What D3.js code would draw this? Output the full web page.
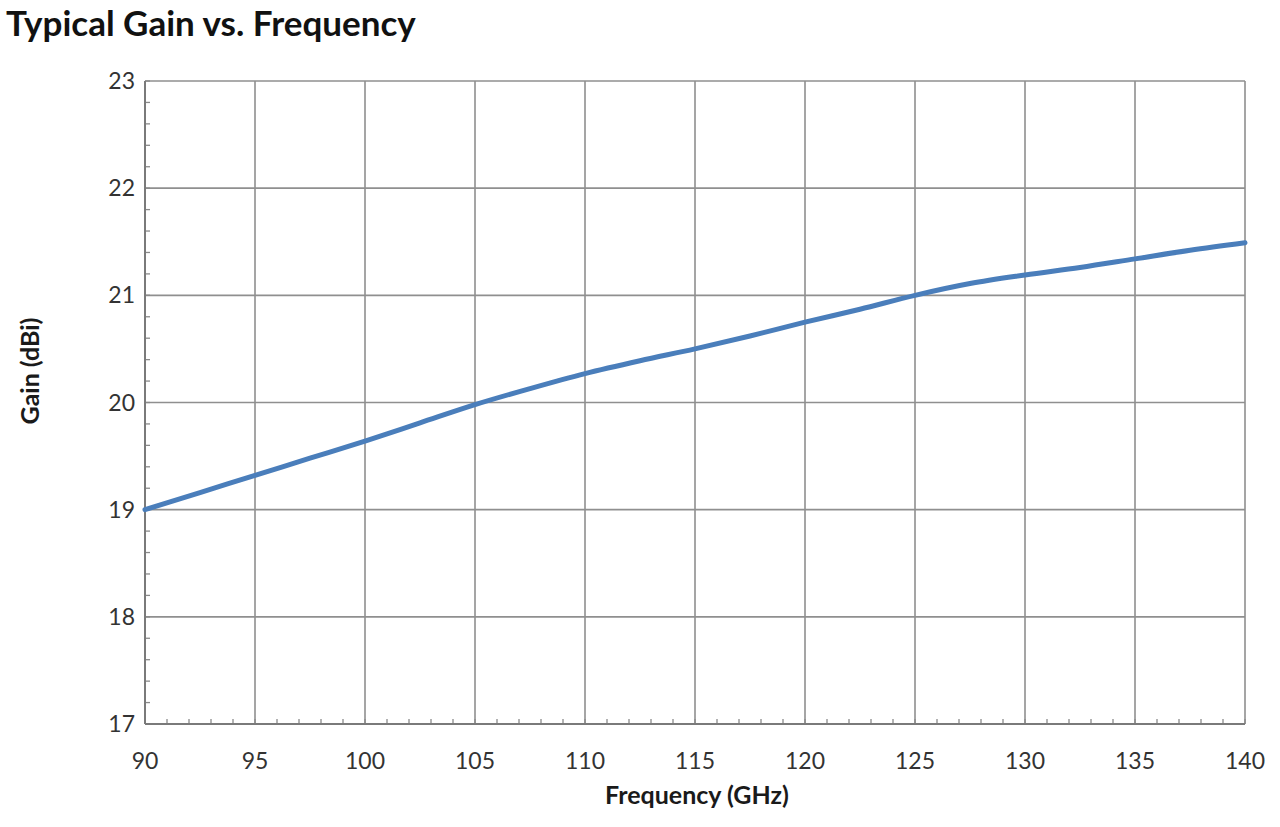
<!DOCTYPE html>
<html>
<head>
<meta charset="utf-8">
<script src="https://cdn.jsdelivr.net/npm/d3@7"></script>
<style>
body{margin:0;background:#fff}
svg{display:block}
</style>
</head>
<body>
<svg id="chart" width="1280" height="827"></svg>
<script>
// gain curve
let freq=[90,92.5,95,97.5,100,102.5,105,107.5,110,112.5,115,117.5,120,122.5,125,127.5,130,132.5,135,137.5,140]
let gain=[19.00,19.16,19.32,19.48,19.64,19.81,19.98,20.13,20.27,20.39,20.50,20.62,20.75,20.87,21.00,21.11,21.19,21.26,21.34,21.42,21.49]
let xTicks=[90,95,100,105,110,115,120,125,130,135,140]
let yTicks=[17,18,19,20,21,22,23]

let svg=d3.select("#chart")
let plotL=145,plotR=1245,plotT=81,plotB=724
let font="Lato, 'Open Sans', sans-serif"

let x=d3.scaleLinear().domain([90,140]).range([plotL,plotR])
let y=d3.scaleLinear().domain([17,23]).range([plotB,plotT])

svg.append("text")
.attr("x",6).attr("y",36)
.attr("font-family",font).attr("font-weight","bold")
.attr("font-size",35).attr("fill","#111")
.text("Typical Gain vs. Frequency")

// grid
let grid=svg.append("g").attr("stroke","#8f8f8f").attr("stroke-width",1.6)
xTicks.forEach(t=>{
grid.append("line").attr("x1",x(t)).attr("x2",x(t)).attr("y1",plotT).attr("y2",plotB)
})
yTicks.forEach(t=>{
grid.append("line").attr("x1",plotL).attr("x2",plotR).attr("y1",y(t)).attr("y2",y(t))
})

// minor ticks pointing inward
let minor=svg.append("g").attr("stroke","#8a8a8a").attr("stroke-width",1.3)
d3.range(90,141,1).forEach(t=>{
minor.append("line").attr("x1",x(t)).attr("x2",x(t)).attr("y1",plotB).attr("y2",plotB-5)
})
d3.range(17,23.01,0.2).forEach(t=>{
minor.append("line").attr("x1",plotL).attr("x2",plotL+5).attr("y1",y(t)).attr("y2",y(t))
})

// axis lines
svg.append("line").attr("x1",plotL).attr("x2",plotL).attr("y1",plotT).attr("y2",plotB)
.attr("stroke","#7a7a7a").attr("stroke-width",2)
svg.append("line").attr("x1",plotL).attr("x2",plotR).attr("y1",plotB).attr("y2",plotB)
.attr("stroke","#7a7a7a").attr("stroke-width",2)

// tick labels
svg.append("g").selectAll("text").data(xTicks).enter().append("text")
.attr("x",d=>x(d)).attr("y",769)
.attr("text-anchor","middle")
.attr("font-family",font).attr("font-size",23).attr("fill","#333")
.text(d=>d)

svg.append("g").selectAll("text").data(yTicks).enter().append("text")
.attr("x",135).attr("y",d=>y(d)+8)
.attr("text-anchor","end")
.attr("font-family",font).attr("font-size",23).attr("fill","#333")
.text(d=>d)

// axis titles
svg.append("text")
.attr("x",697).attr("y",804)
.attr("text-anchor","middle")
.attr("font-family",font).attr("font-weight","bold")
.attr("font-size",25).attr("fill","#1a1a1a")
.text("Frequency (GHz)")

svg.append("text")
.attr("transform","translate(39,371) rotate(-90)")
.attr("text-anchor","middle")
.attr("font-family",font).attr("font-weight","bold")
.attr("font-size",25).attr("fill","#1a1a1a")
.text("Gain (dBi)")

// curve
let line=d3.line()
.x((d,i)=>x(freq[i]))
.y(d=>y(d))
.curve(d3.curveMonotoneX)

svg.append("path")
.datum(gain)
.attr("d",line)
.attr("fill","none")
.attr("stroke","#4a7ebb")
.attr("stroke-width",5)
.attr("stroke-linecap","round")
</script>
</body>
</html>
